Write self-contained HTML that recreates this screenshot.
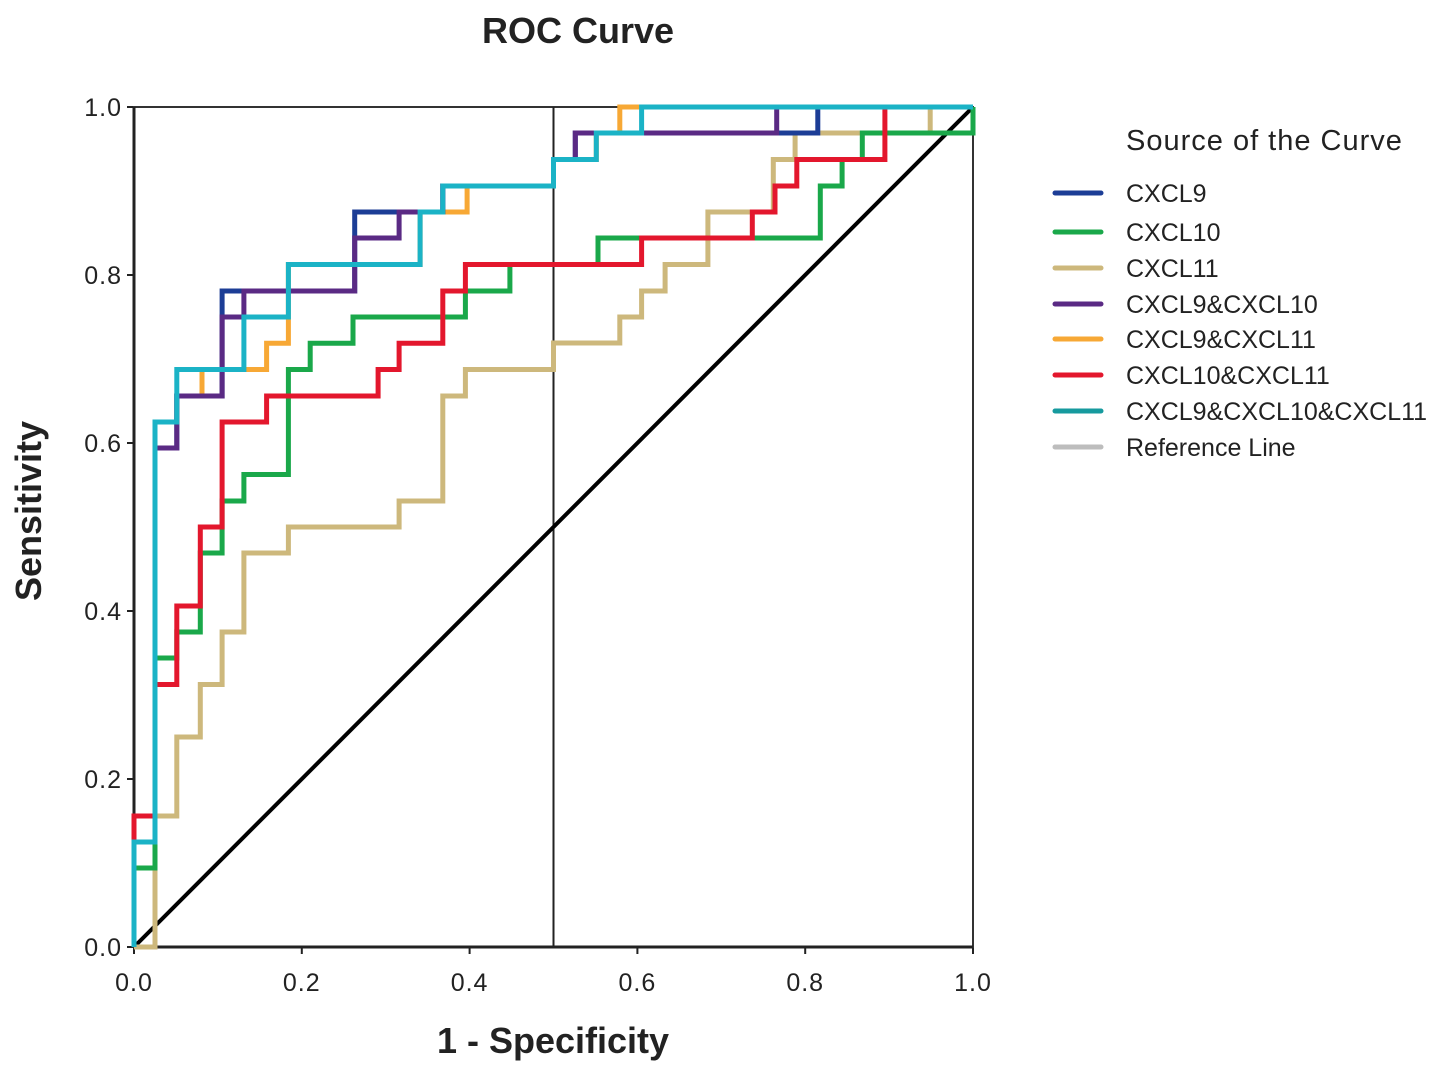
<!DOCTYPE html>
<html><head><meta charset="utf-8"><style>
html,body{margin:0;padding:0;background:#fff;}
svg{display:block;font-family:"Liberation Sans",Arial,sans-serif;}
</style></head><body>
<svg id="chart" width="1441" height="1074" viewBox="0 0 1441 1074" xmlns="http://www.w3.org/2000/svg">
<rect width="1441" height="1074" fill="#fff"/>
<text x="578" y="43" font-size="36" font-weight="bold" text-anchor="middle" fill="#222">ROC Curve</text>
<text transform="translate(41,511) rotate(-90)" font-size="36" font-weight="bold" text-anchor="middle" fill="#222">Sensitivity</text>
<text x="553" y="1053" font-size="36" font-weight="bold" text-anchor="middle" fill="#222">1 - Specificity</text>
<g id="ticks"></g>
<g id="plot"></g>
<g id="legend">
<text x="1126" y="150" font-size="29" letter-spacing="1" fill="#222">Source of the Curve</text>
</g>
</svg>
<script>
const xTicks = [0, 0.2, 0.4, 0.6, 0.8, 1.0];
const yTicks = [0, 0.2, 0.4, 0.6, 0.8, 1.0];
const tickLabels = ["0.0", "0.2", "0.4", "0.6", "0.8", "1.0"];
const seriesNames = ["CXCL11", "CXCL10", "CXCL10&CXCL11", "CXCL9&CXCL11", "CXCL9", "CXCL9&CXCL10", "CXCL9&CXCL10&CXCL11"];
const legendOrder = ["CXCL9", "CXCL10", "CXCL11", "CXCL9&CXCL10", "CXCL9&CXCL11", "CXCL10&CXCL11", "CXCL9&CXCL10&CXCL11", "Reference Line"];
const cxcl11Fpr = [0, .025, .025, .051, .051, .079, .079, .105, .105, .131, .131, .184, .184, .316, .316, .368, .368, .395, .395, .5, .5, .579, .579, .605, .605, .633, .633, .684, .684, .762, .762, .788, .788, .949, .949, 1];
const cxcl11Tpr = [0, 0, .156, .156, .25, .25, .3125, .3125, .375, .375, .469, .469, .5, .5, .531, .531, .656, .656, .6875, .6875, .719, .719, .75, .75, .781, .781, .8125, .8125, .875, .875, .9375, .9375, .969, .969, 1, 1];
const cxcl10Fpr = [0, 0, .025, .025, .051, .051, .079, .079, .105, .105, .131, .131, .184, .184, .21, .21, .261, .261, .395, .395, .448, .448, .553, .553, .818, .818, .844, .844, .868, .868, 1, 1];
const cxcl10Tpr = [0, .094, .094, .344, .344, .375, .375, .469, .469, .531, .531, .5625, .5625, .6875, .6875, .71875, .71875, .75, .75, .781, .781, .8125, .8125, .844, .844, .906, .906, .9375, .9375, .969, .969, 1];
const c1011Fpr = [0, 0, .025, .025, .051, .051, .079, .079, .105, .105, .158, .158, .291, .291, .316, .316, .368, .368, .395, .395, .605, .605, .737, .737, .764, .764, .79, .79, .895, .895, 1];
const c1011Tpr = [0, .156, .156, .3125, .3125, .406, .406, .5, .5, .625, .625, .656, .656, .6875, .6875, .71875, .71875, .781, .781, .8125, .8125, .844, .844, .875, .875, .906, .906, .9375, .9375, 1, 1];
const c911Fpr = [0, 0, .025, .025, .051, .051, .081, .081, .158, .158, .184, .184, .341, .341, .397, .397, .5, .5, .551, .551, .579, .579, 1];
const c911Tpr = [0, .125, .125, .625, .625, .656, .656, .6875, .6875, .71875, .71875, .8125, .8125, .875, .875, .906, .906, .9375, .9375, .969, .969, 1, 1];
const cxcl9Fpr = [0, 0, .025, .025, .051, .051, .105, .105, .263, .263, .368, .368, .5, .5, .526, .526, .815, .815, 1];
const cxcl9Tpr = [0, .125, .125, .594, .594, .656, .656, .781, .781, .875, .875, .906, .906, .9375, .9375, .969, .969, 1, 1];
const c910Fpr = [0, 0, .025, .025, .051, .051, .105, .105, .131, .131, .263, .263, .316, .316, .368, .368, .5, .5, .526, .526, .766, .766, 1];
const c910Tpr = [0, .125, .125, .594, .594, .656, .656, .75, .75, .781, .781, .844, .844, .875, .875, .906, .906, .9375, .9375, .969, .969, 1, 1];
const c91011Fpr = [0, 0, .025, .025, .051, .051, .131, .131, .184, .184, .341, .341, .368, .368, .5, .5, .551, .551, .605, .605, 1];
const c91011Tpr = [0, .125, .125, .625, .625, .6875, .6875, .75, .75, .8125, .8125, .875, .875, .906, .906, .9375, .9375, .969, .969, 1, 1];

const X0 = 134, X1 = 973, Y0 = 947, Y1 = 107;
function sx(v){ return X0 + v * (X1 - X0); }
function sy(v){ return Y0 - v * (Y0 - Y1); }
const NS = "http://www.w3.org/2000/svg";
const colors = {"CXCL9":"#1c3d96","CXCL10":"#1aa84a","CXCL11":"#cdb87c","CXCL9&CXCL10":"#5a2a84","CXCL9&CXCL11":"#f7a835","CXCL10&CXCL11":"#e3172d","CXCL9&CXCL10&CXCL11":"#1bb3c6","Reference Line":"#bdbdbd"};
const legendColors = {"CXCL9&CXCL10&CXCL11":"#169a9e"};
const fprs = [cxcl11Fpr, cxcl10Fpr, c1011Fpr, c911Fpr, cxcl9Fpr, c910Fpr, c91011Fpr];
const tprs = [cxcl11Tpr, cxcl10Tpr, c1011Tpr, c911Tpr, cxcl9Tpr, c910Tpr, c91011Tpr];

const plot = document.getElementById('plot');
const ticks = document.getElementById('ticks');
function mk(tag, attrs, parent){
  const e = document.createElementNS(NS, tag);
  for (const k in attrs) e.setAttribute(k, attrs[k]);
  parent.appendChild(e);
  return e;
}
const frame = mk('rect', {x:X0, y:Y1, width:X1-X0, height:Y0-Y1, fill:'none', stroke:'#333', 'stroke-width':2}, plot);


const axL = mk('line', {x1:X0, y1:Y1, x2:X0, y2:Y0, stroke:'#222', 'stroke-width':3}, plot);


const axB = mk('line', {x1:X0, y1:Y0, x2:X1, y2:Y0, stroke:'#222', 'stroke-width':3}, plot);


const vline = mk('line', {x1:sx(0.5), y1:Y1, x2:sx(0.5), y2:Y0, stroke:'#222', 'stroke-width':2}, plot);


const diag = mk('line', {x1:sx(0), y1:sy(0), x2:sx(1), y2:sy(1), stroke:'#000', 'stroke-width':4}, plot);



xTicks.forEach((v, i) => {
  const t = mk('line', {x1:sx(v), y1:Y0, x2:sx(v), y2:Y0+7, stroke:'#222', 'stroke-width':2}, ticks);
  
  
  const l = mk('text', {x:sx(v), y:Y0+44, 'font-size':25, 'letter-spacing':1, 'text-anchor':'middle', fill:'#222'}, ticks);
  l.textContent = tickLabels[i];
  
  
});
yTicks.forEach((v, i) => {
  const t = mk('line', {x1:X0-7, y1:sy(v), x2:X0, y2:sy(v), stroke:'#222', 'stroke-width':2}, ticks);
  
  
  const l = mk('text', {x:X0-12, y:sy(v)+9, 'font-size':25, 'letter-spacing':1, 'text-anchor':'end', fill:'#222'}, ticks);
  l.textContent = tickLabels[i];
  
  
});

seriesNames.forEach((name, i) => {
  const f = fprs[i], t = tprs[i];
  const pts = f.map((v, j) => sx(v).toFixed(1) + ',' + sy(t[j]).toFixed(1)).join(' ');
  const p = mk('polyline', {points:pts, fill:'none', stroke:colors[name], 'stroke-width':5, 'stroke-linejoin':'miter'}, plot);
  
  
});

const legend = document.getElementById('legend');
const legendY = [193, 232, 268, 304, 339, 375, 411, 447];
legendOrder.forEach((name, i) => {
  const g = mk('g', {}, legend);
  
  
  mk('line', {x1:1055, y1:legendY[i], x2:1101, y2:legendY[i], stroke:legendColors[name] || colors[name], 'stroke-width':5, 'stroke-linecap':'round'}, g);
  const tx = mk('text', {x:1126, y:legendY[i]+9, 'font-size':25, fill:'#222'}, g);
  tx.textContent = name;
});
</script>
</body></html>
